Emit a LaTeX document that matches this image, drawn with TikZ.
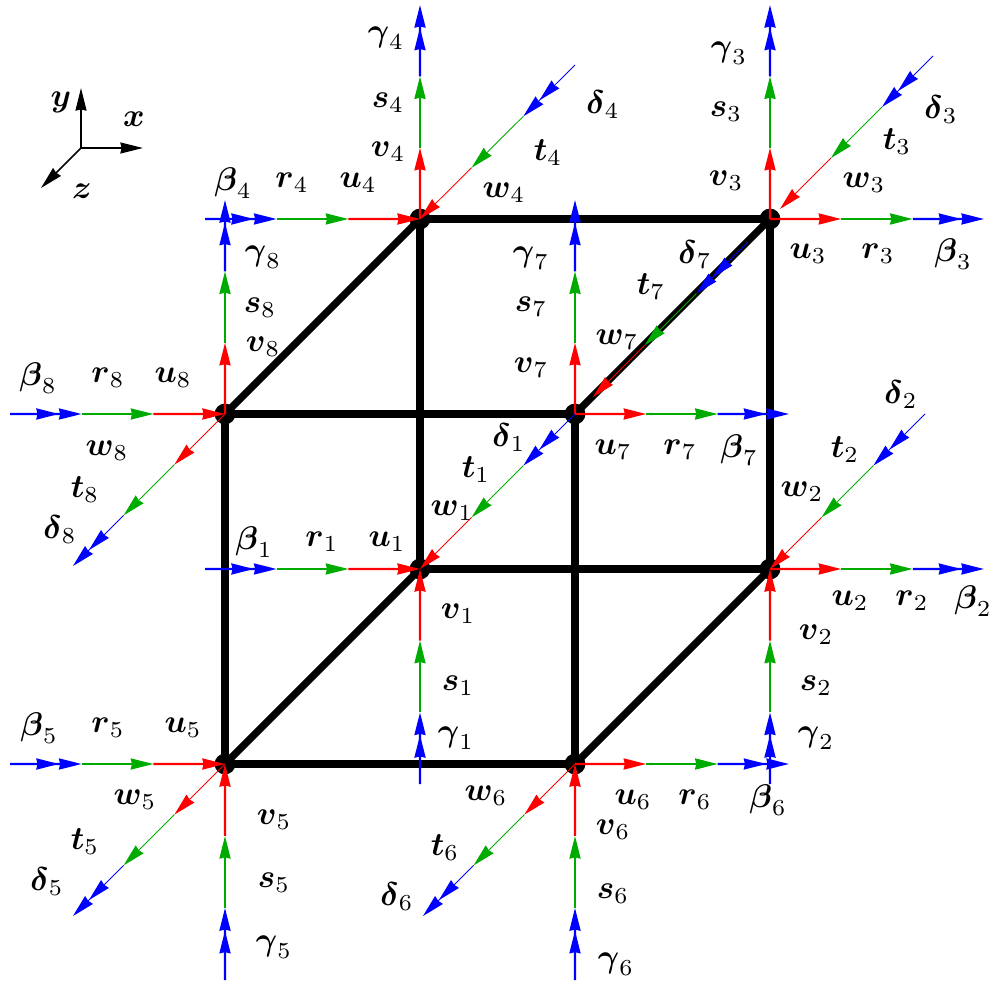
\documentclass[tikz,border=0pt]{standalone}
\usepackage{amsmath,amssymb,graphicx}
\usetikzlibrary{arrows.meta,calc}
\definecolor{cblue}{rgb}{0,0,1}
\definecolor{cgreen}{rgb}{0,0.67,0}
\definecolor{cred}{rgb}{1,0,0}
\tikzset{
  headtip/.tip={Stealth[length=7.8pt,width=3.8pt,inset=0.4pt]},
  edge line/.style={line width=2.5pt,black},
  vertex/.style={circle,fill=black,inner sep=0pt,minimum size=7.2pt},
  lab/.style={inner sep=0pt,anchor=center},
  axis line/.style={line width=0.5pt,black,-{headtip}},
  straight/.style={line width=0.7pt},
  slant/.style={line width=0.3pt},
}
\newcommand{\inchain}[3]{%
  \draw[#3,cblue,-{headtip[sep=0pt]headtip}] (#1) -- ($(#1)!0.333!(#2)$);
  \draw[#3,cgreen,-{headtip}] ($(#1)!0.333!(#2)$) -- ($(#1)!0.667!(#2)$);
  \draw[#3,cred,-{headtip}] ($(#1)!0.667!(#2)$) -- (#2);
}
\newcommand{\outchain}[3]{%
  \draw[#3,cred,-{headtip}] (#1) -- ($(#1)!0.333!(#2)$);
  \draw[#3,cgreen,-{headtip}] ($(#1)!0.333!(#2)$) -- ($(#1)!0.667!(#2)$);
  \draw[#3,cblue,-{headtip[sep=0pt]headtip}] ($(#1)!0.667!(#2)$) -- (#2);
}
\newcommand{\bs}[2]{\scalebox{1.13}{$\boldsymbol{#1}_{#2}$}}
\newcommand{\ax}[1]{\scalebox{1.13}{$\boldsymbol{#1}$}}
\begin{document}
\begin{tikzpicture}[x=0.345pt,y=-0.345pt]
\useasboundingbox (0,0) rectangle (994,984);
% vertices
\node[vertex] (v1) at (420,569) {};
\node[vertex] (v2) at (770,569) {};
\node[vertex] (v3) at (770,219) {};
\node[vertex] (v4) at (420,219) {};
\node[vertex] (v5) at (225,764) {};
\node[vertex] (v6) at (575,764) {};
\node[vertex] (v7) at (575,414) {};
\node[vertex] (v8) at (225,414) {};
% cube
\foreach \a/\b in {v1/v2,v2/v3,v3/v4,v4/v1,v5/v6,v6/v7,v7/v8,v8/v5,v1/v5,v2/v6,v3/v7,v4/v8}
  \draw[edge line] (\a.center) -- (\b.center);
% free ends: left/right chains
\coordinate (a1) at (205,569);
\coordinate (a4) at (205,219);
\coordinate (a5) at (10,764);
\coordinate (a8) at (10,414);
\coordinate (a2) at (984,569);
\coordinate (a3) at (984,219);
\coordinate (a6) at (789,764);
\coordinate (a7) at (789,414);
% vertical
\coordinate (b1) at (420,784);
\coordinate (b2) at (770,784);
\coordinate (b5) at (225,980);
\coordinate (b6) at (575,980);
\coordinate (b3) at (770,5);
\coordinate (b4) at (420,5);
\coordinate (b7) at (575,200);
\coordinate (b8) at (225,200);
% slanted
\coordinate (c1) at (575,414);
\coordinate (c2) at (925,414);
\coordinate (c3) at (933,56);
\coordinate (c3e) at (780,209);
\coordinate (c4) at (575,65);
\coordinate (c7) at (748,242);
\coordinate (c7e) at (593,397);
\coordinate (c5) at (73,916);
\coordinate (c6) at (423,916);
\coordinate (c8) at (73,566);
% chains
\inchain{a1}{v1.center}{straight}
\inchain{a4}{v4.center}{straight}
\inchain{a5}{v5.center}{straight}
\inchain{a8}{v8.center}{straight}
\outchain{v2.center}{a2}{straight}
\outchain{v3.center}{a3}{straight}
\outchain{v6.center}{a6}{straight}
\outchain{v7.center}{a7}{straight}
\inchain{b1}{v1.center}{straight}
\inchain{b2}{v2.center}{straight}
\inchain{b5}{v5.center}{straight}
\inchain{b6}{v6.center}{straight}
\outchain{v3.center}{b3}{straight}
\outchain{v4.center}{b4}{straight}
\outchain{v7.center}{b7}{straight}
\outchain{v8.center}{b8}{straight}
\inchain{c1}{v1.center}{slant}
\inchain{c2}{v2.center}{slant}
\inchain{c3}{c3e}{slant}
\inchain{c4}{v4.center}{slant}
\inchain{c7}{c7e}{slant}
\outchain{v5.center}{c5}{slant}
\outchain{v6.center}{c6}{slant}
\outchain{v8.center}{c8}{slant}
% axes
\coordinate (o) at (81,148);
\coordinate (ox) at (143,148);
\coordinate (oy) at (81,88);
\coordinate (oz) at (41,188);
\draw[axis line] (o) -- (ox);
\draw[axis line] (o) -- (oy);
\draw[axis line] (o) -- (oz);
\node[lab] (lx) at (134,119) {\ax{x}};
\node[lab] (ly) at (61,102) {\ax{y}};
\node[lab] (lz) at (82,191) {\ax{z}};
% labels vertex 1
\node[lab] (l1b) at (254,542) {\bs{\beta}{1}};
\node[lab] (l1r) at (322,542) {\bs{r}{1}};
\node[lab] (l1u) at (387,542) {\bs{u}{1}};
\node[lab] (l1v) at (458,614) {\bs{v}{1}};
\node[lab] (l1s) at (458,686) {\bs{s}{1}};
\node[lab] (l1g) at (456,738) {\bs{\gamma}{1}};
\node[lab] (l1d) at (509,438) {\bs{\delta}{1}};
\node[lab] (l1t) at (476,470) {\bs{t}{1}};
\node[lab] (l1w) at (452,511) {\bs{w}{1}};
% vertex 2
\node[lab] (l2u) at (850,601) {\bs{u}{2}};
\node[lab] (l2r) at (912,601) {\bs{r}{2}};
\node[lab] (l2b) at (973,601) {\bs{\beta}{2}};
\node[lab] (l2v) at (816,635) {\bs{v}{2}};
\node[lab] (l2s) at (816,686) {\bs{s}{2}};
\node[lab] (l2g) at (816,738) {\bs{\gamma}{2}};
\node[lab] (l2d) at (901,395) {\bs{\delta}{2}};
\node[lab] (l2t) at (845,450) {\bs{t}{2}};
\node[lab] (l2w) at (802,492) {\bs{w}{2}};
% vertex 3
\node[lab] (l3u) at (808,254) {\bs{u}{3}};
\node[lab] (l3r) at (878,254) {\bs{r}{3}};
\node[lab] (l3b) at (953,254) {\bs{\beta}{3}};
\node[lab] (l3v) at (726,181) {\bs{v}{3}};
\node[lab] (l3s) at (726,112) {\bs{s}{3}};
\node[lab] (l3g) at (729,53) {\bs{\gamma}{3}};
\node[lab] (l3d) at (941,110) {\bs{\delta}{3}};
\node[lab] (l3t) at (897,142) {\bs{t}{3}};
\node[lab] (l3w) at (864,183) {\bs{w}{3}};
% vertex 4
\node[lab] (l4b) at (233,183) {\bs{\beta}{4}};
\node[lab] (l4r) at (292,183) {\bs{r}{4}};
\node[lab] (l4u) at (358,183) {\bs{u}{4}};
\node[lab] (l4v) at (388,152) {\bs{v}{4}};
\node[lab] (l4s) at (388,103) {\bs{s}{4}};
\node[lab] (l4g) at (386,38) {\bs{\gamma}{4}};
\node[lab] (l4d) at (603,105) {\bs{\delta}{4}};
\node[lab] (l4t) at (548,153) {\bs{t}{4}};
\node[lab] (l4w) at (504,193) {\bs{w}{4}};
% vertex 5
\node[lab] (l5b) at (39,728) {\bs{\beta}{5}};
\node[lab] (l5r) at (108,728) {\bs{r}{5}};
\node[lab] (l5u) at (183,728) {\bs{u}{5}};
\node[lab] (l5v) at (274,820) {\bs{v}{5}};
\node[lab] (l5s) at (274,883) {\bs{s}{5}};
\node[lab] (l5g) at (274,947) {\bs{\gamma}{5}};
\node[lab] (l5d) at (47,882) {\bs{\delta}{5}};
\node[lab] (l5t) at (85,842) {\bs{t}{5}};
\node[lab] (l5w) at (135,800) {\bs{w}{5}};
% vertex 6
\node[lab] (l6u) at (633,800) {\bs{u}{6}};
\node[lab] (l6r) at (695,800) {\bs{r}{6}};
\node[lab] (l6b) at (768,800) {\bs{\beta}{6}};
\node[lab] (l6v) at (613,830) {\bs{v}{6}};
\node[lab] (l6s) at (613,894) {\bs{s}{6}};
\node[lab] (l6g) at (616,964) {\bs{\gamma}{6}};
\node[lab] (l6d) at (397,897) {\bs{\delta}{6}};
\node[lab] (l6t) at (445,848) {\bs{t}{6}};
\node[lab] (l6w) at (486,796) {\bs{w}{6}};
% vertex 7
\node[lab] (l7u) at (613,450) {\bs{u}{7}};
\node[lab] (l7r) at (680,450) {\bs{r}{7}};
\node[lab] (l7b) at (739,450) {\bs{\beta}{7}};
\node[lab] (l7v) at (531,368) {\bs{v}{7}};
\node[lab] (l7s) at (531,307) {\bs{s}{7}};
\node[lab] (l7g) at (531,258) {\bs{\gamma}{7}};
\node[lab] (l7d) at (695,255) {\bs{\delta}{7}};
\node[lab] (l7t) at (651,287) {\bs{t}{7}};
\node[lab] (l7w) at (617,340) {\bs{w}{7}};
% vertex 8
\node[lab] (l8b) at (38,378) {\bs{\beta}{8}};
\node[lab] (l8r) at (108,378) {\bs{r}{8}};
\node[lab] (l8u) at (173,378) {\bs{u}{8}};
\node[lab] (l8v) at (263,347) {\bs{v}{8}};
\node[lab] (l8s) at (260,308) {\bs{s}{8}};
\node[lab] (l8g) at (263,257) {\bs{\gamma}{8}};
\node[lab] (l8d) at (60,530) {\bs{\delta}{8}};
\node[lab] (l8t) at (85,490) {\bs{t}{8}};
\node[lab] (l8w) at (107,451) {\bs{w}{8}};
\end{tikzpicture}
\end{document}
